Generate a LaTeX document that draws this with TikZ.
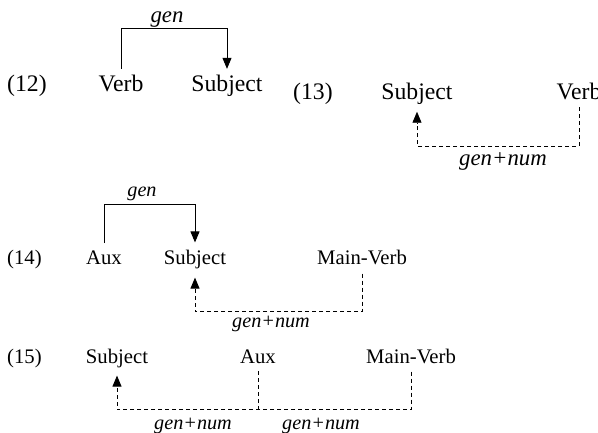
\documentclass[tikz,border=0pt]{standalone}
\usepackage{fontspec}
\setmainfont{Liberation Serif}
\usetikzlibrary{arrows.meta}
\begin{document}
\begin{tikzpicture}[x=1pt,y=-1pt,
  bigw/.style={font=\fontsize{23.7}{28}\selectfont, anchor=base, inner xsep=0pt, inner ysep=6.5pt},
  smw/.style={font=\fontsize{20.7}{25}\selectfont, anchor=base, inner xsep=0pt, inner ysep=8pt},
  bignum/.style={font=\fontsize{23.7}{28}\selectfont, anchor=base west, inner sep=0pt},
  smnum/.style={font=\fontsize{20.7}{25}\selectfont, anchor=base west, inner sep=0pt},
  biglab/.style={font=\fontsize{22.8}{28}\selectfont\itshape, anchor=base, inner sep=0pt},
  smlab/.style={font=\fontsize{20.2}{25}\selectfont\itshape, anchor=base, inner sep=0pt},
  agr/.style={line width=0.9pt, -{Triangle[length=11pt,width=9pt]}},
  agrd/.style={agr, dash pattern=on 4pt off 3pt},
  plaind/.style={line width=0.9pt, dash pattern=on 4pt off 3pt},
  ]
\useasboundingbox (0,0) rectangle (598,433);
% (12)
\node[bignum] (n12) at (7,92) {(12)};
\node[bigw] (v12) at (121,92) {Verb};
\node[bigw] (s12) at (227,92) {Subject};
\draw[agr] (v12.north) -- ++(0,-40) -| (s12.north);
\node[biglab] (g12) at (167,23) {gen};
% (13)
\node[bignum] (n13) at (293,100) {(13)};
\node[bigw] (s13) at (417,100) {Subject};
\node[bigw] (v13) at (579,100) {Verb};
\draw[agrd] (v13.south) -- ++(0,39) -| (s13.south);
\node[biglab] (g13) at (503,166) {gen+num};
% (14)
\node[smnum] (n14) at (7,265) {(14)};
\node[smw] (a14) at (104,265) {Aux};
\node[smw] (s14) at (195,265) {Subject};
\node[smw] (m14) at (362,265) {Main-Verb};
\draw[agr] (a14.north) -- ++(0,-39) -| (s14.north);
\node[smlab] (g14) at (142,197) {gen};
\draw[agrd] (m14.south) -- ++(0,38) -| (s14.south);
\node[smlab] (gn14) at (271,327) {gen+num};
% (15)
\node[smnum] (n15) at (7,363) {(15)};
\node[smw] (s15) at (117,363) {Subject};
\node[smw] (a15) at (258,363) {Aux};
\node[smw] (m15) at (411,363) {Main-Verb};
\draw[agrd] (m15.south) -- ++(0,38) coordinate (j15) -| (s15.south);
\draw[plaind] (a15.south) -- (a15.south |- j15);
\node[smlab] (gn15a) at (193,429) {gen+num};
\node[smlab] (gn15b) at (321,429) {gen+num};
\end{tikzpicture}
\end{document}
